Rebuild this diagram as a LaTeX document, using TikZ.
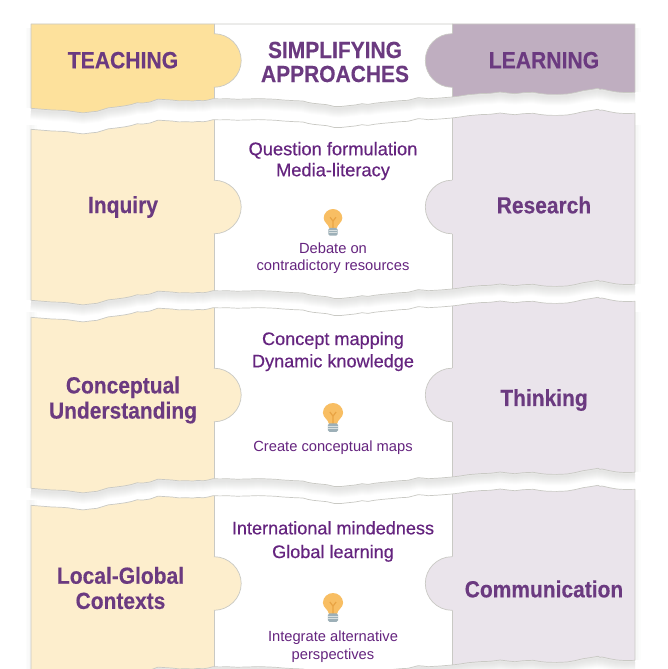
\documentclass[tikz,border=0pt]{standalone}
\usepackage{fontspec}
\setmainfont{Liberation Sans}
\newfontfamily\titlefont[FakeStretch=0.9,FakeBold=0.35]{Liberation Sans Bold}
\newfontfamily\midfont[FakeBold=0.45]{Liberation Sans}
\definecolor{hleft}{HTML}{FDE19C}
\definecolor{hright}{HTML}{BFAEC0}
\definecolor{rleft}{HTML}{FDEECD}
\definecolor{rright}{HTML}{EAE4EB}
\definecolor{midbg}{HTML}{FFFFFF}
\definecolor{edgegray}{HTML}{C9C9C4}
\definecolor{shadowgray}{HTML}{5F625C}
\definecolor{titlepurple}{HTML}{6B3A80}
\definecolor{midpurple}{HTML}{65247F}
\definecolor{bulbglass}{HTML}{F8BE63}
\definecolor{bulbwire}{HTML}{E9A444}
\definecolor{bulbbase}{HTML}{9DB0B8}
\definecolor{bulbline}{HTML}{D8DFDF}
\def\tornlist{31/108.3,42/109.2,52/110,60/110.2,68/110.8,76/112,83/112.9,90/112,97/111.3,103/109.5,108/107.9,116/107,125/105.8,131/104.6,137/102.8,143/103,150/102,154/100.6,158/99.1,165/99.6,172/100,179/100.9,186/100.7,193/101,198/100.4,203/100.8,208/100,213/98.7,220/98.9,227/98.7,237/99.2,247/99,258/98.6,270/99,277/99.4,283/100,293/100.6,303/101,308/102.4,313/103.3,320/104,327/104.7,334/106.4,340/106.6,348/105.7,355/105,362/103.7,368/104.4,375/103.2,382/102.4,391/101.6,400/100.7,408/100.3,413/99,418/97.7,423/98,428/98.7,440/98,452/97,460/96,468/94.7,481/93.6,490/93.3,495/92.7,500/92,508/93,515/93.7,523/92.7,533/92.3,541/93.6,548/94.3,557/94.4,567/94,575/92.6,583/90.7,591/89.5,598/88.3,600/89.3,602/89,610/90.8,617/92,626/92.6,635/92.3}
\newcommand\BuildTorn[1]{%
  \gdef\TornF{}\gdef\TornB{}%
  \foreach \tx/\ty in \tornlist {%
    \pgfmathsetmacro\tyy{\ty+#1}%
    \xdef\TornF{\TornF -- (\tx,\tyy)}%
    \xdef\TornB{ -- (\tx,\tyy)\TornB}%
  }%
}
% #1 top path, #2 bottom offset, #3 left colour, #4 right colour, #5 tab centre y, #6 y for side start
\newcommand\PanelShape[6]{%
  \BuildTorn{#2}%
  \pgfmathsetmacro\yR{92.3+#2}%
  \pgfmathsetmacro\yL{108.3+#2}%
  \foreach \sw in {2,4,...,18} {
    \draw[yshift=-2pt,line width=\sw pt,shadowgray,opacity=0.02,line join=round] (635,\yR) \TornB;
  }
  \foreach \sw in {2,5,8,11} {
    \draw[line width=\sw pt,shadowgray,opacity=0.014] (635,#6) -- (635,\yR);
    \draw[line width=\sw pt,shadowgray,opacity=0.014] (31,#6) -- (31,\yL);
  }
  \begin{scope}
    \clip #1 \TornB -- cycle;
    \fill[#3] (31,0) rectangle (214,680);
    \fill[midbg] (214,0) rectangle (452,680);
    \fill[#4] (452,0) rectangle (635,680);
    \draw[panel line] (214,0) -- (214,680) (452,0) -- (452,680);
  \end{scope}
  \draw[panel line,line join=round] #1 \TornB -- cycle;
  \fill[#3] (213,#5-26.8) -- (214,#5-26.8) .. controls (229,#5-26.8) and (241.2,#5-14.5) .. (241.2,#5) .. controls (241.2,#5+14.5) and (229,#5+26.8) .. (214,#5+26.8) -- (213,#5+26.8) -- cycle;
  \draw[panel line] (214,#5-26.8) .. controls (229,#5-26.8) and (241.2,#5-14.5) .. (241.2,#5) .. controls (241.2,#5+14.5) and (229,#5+26.8) .. (214,#5+26.8);
  \fill[#4] (453,#5-26.8) -- (452,#5-26.8) .. controls (437,#5-26.8) and (425.3,#5-14.5) .. (425.3,#5) .. controls (425.3,#5+14.5) and (437,#5+26.8) .. (452,#5+26.8) -- (453,#5+26.8) -- cycle;
  \draw[panel line] (452,#5-26.8) .. controls (437,#5-26.8) and (425.3,#5-14.5) .. (425.3,#5) .. controls (425.3,#5+14.5) and (437,#5+26.8) .. (452,#5+26.8);
}
\newcommand\TopOf[1]{%
  \BuildTorn{#1}%
  \pgfmathsetmacro\tyy{108.3+#1}%
  \xdef\TopPath{(31,\tyy)\TornF}%
}
\tikzset{
  panel line/.style={draw=edgegray,line width=0.7pt},
  headtitle/.style={font=\titlefont\fontsize{23.5}{24}\selectfont,text=titlepurple,align=center,inner sep=0pt,anchor=base},
  rowtitle/.style={font=\titlefont\fontsize{23.3}{25.2}\selectfont,text=titlepurple,align=center,inner sep=0pt},
  approach/.style={font=\midfont\fontsize{18.3}{21}\selectfont,text=midpurple,align=center,inner sep=0pt},
  activity/.style={font=\fontsize{14.7}{17}\selectfont,text=midpurple,align=center,inner sep=0pt},
  bulb/.pic={
    \fill[bulbglass] (-3.8,20) .. controls (-4.5,15.5) and (-9.6,14) .. (-9.6,9.3) .. controls (-9.6,4) and (-5,0) .. (0,0) .. controls (5,0) and (9.6,4) .. (9.6,9.3) .. controls (9.6,14) and (4.5,15.5) .. (3.8,20) -- cycle;
    \draw[bulbwire,line width=1.2pt] (0,20) -- (0,12.5) -- (-3,8.5) (0,12.5) -- (3,8.5);
    \fill[bulbbase,rounded corners=1.5pt] (-4.8,19.5) rectangle (4.8,27.5);
    \draw[bulbline,line width=0.8pt] (-4.6,22) -- (4.6,22) (-4.6,24.6) -- (4.6,24.6);
  }
}
\begin{document}
\begin{tikzpicture}[x=1pt,y=-1pt]
\useasboundingbox (0,0) rectangle (668,669);
\clip (0,0) rectangle (668,669);
% header
\PanelShape{(31,24) -- (635,24)}{0}{hleft}{hright}{60.5}{28}
% rows
\TopOf{21}
\PanelShape{\TopPath}{192}{rleft}{rright}{207}{125}
\TopOf{209}
\PanelShape{\TopPath}{380}{rleft}{rright}{395}{312}
\TopOf{397}
\PanelShape{\TopPath}{568}{rleft}{rright}{583.5}{500}
% titles
\node[headtitle] (teaching) at (123,68.3) {TEACHING};
\node[headtitle] (learning) at (544,68.3) {LEARNING};
\node[headtitle,anchor=center,font=\titlefont\fontsize{23.3}{24}\selectfont] (simplifying) at (335,62) {SIMPLIFYING\\APPROACHES};
\node[rowtitle] (inquiry) at (123,207) {Inquiry};
\node[rowtitle] (research) at (544,205) {Research};
\node[rowtitle] (conceptual) at (123,400) {Conceptual\\Understanding};
\node[rowtitle] (thinking) at (544,400) {Thinking};
\node[rowtitle] (localglobal) at (120.5,588) {Local-Global\\Contexts};
\node[rowtitle] (communication) at (544,589) {Communication};
% approaches
\node[approach] (a1) at (333,161) {Question formulation\\Media-literacy};
\node[approach,font=\midfont\fontsize{18.1}{22.3}\selectfont] (a2) at (333,351.5) {Concept mapping\\Dynamic knowledge};
\node[approach,font=\midfont\fontsize{18.1}{23.7}\selectfont] (a3) at (333,541.5) {International mindedness\\Global learning};
% activities
\pic[scale=0.97] at (333,209) {bulb};
\pic[scale=1.05] at (333,403) {bulb};
\pic[scale=1.05] at (333,593) {bulb};
\node[activity] (d1) at (333,258.5) {Debate on\\contradictory resources};
\node[activity] (d2) at (333,448) {Create conceptual maps};
\node[activity,font=\fontsize{14.7}{17.6}\selectfont] (d3) at (333,646.5) {Integrate alternative\\perspectives};
\end{tikzpicture}
\end{document}
